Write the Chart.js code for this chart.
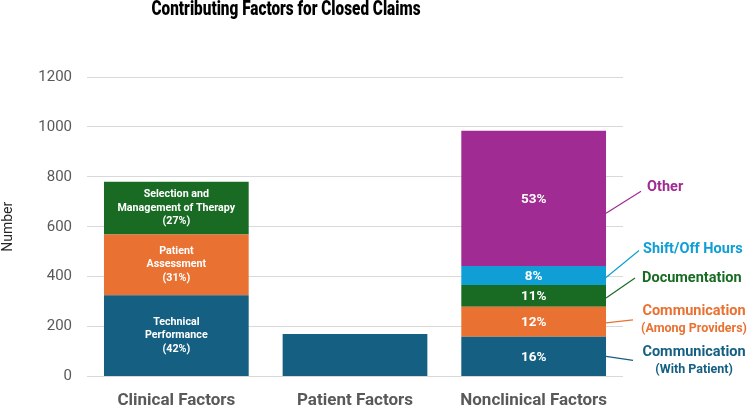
<!DOCTYPE html>
<html>
<head>
<meta charset="utf-8">
<script src="https://cdn.jsdelivr.net/npm/chart.js@4.4.1/dist/chart.umd.min.js"></script>
<style>
    html, body { margin: 0; padding: 0; background: #ffffff; }
    #wrap { width: 747px; height: 407px; position: relative; }
</style>
</head>
<body>
<div id="wrap"><canvas id="claimsChart"></canvas></div>
<script>
var categories = ["Clinical Factors", "Patient Factors", "Nonclinical Factors"];
var yTicks = [0, 200, 400, 600, 800, 1000, 1200];

// clinical bar, bottom to top
var clinicalFactors = [["Technical", "Performance", "(42%)"], ["Patient", "Assessment", "(31%)"], ["Selection and", "Management of Therapy", "(27%)"]];
var clinicalValues = [326, 243, 211];

var patientValue = 170;

// nonclinical bar, bottom to top
var nonclinicalFactors = [["Communication", "(With Patient)"], ["Communication", "(Among Providers)"], ["Documentation"], ["Shift/Off Hours"], ["Other"]];
var nonclinicalValues = [159, 120, 88, 76, 542];
var nonclinicalPct = ["16%", "12%", "11%", "8%", "53%"];

var blue = "#156082";
var orange = "#E97132";
var green = "#196B24";
var cyan = "#0F9ED5";
var purple = "#A02B93";
var clinicalColors = [blue, orange, green];
var nonclinicalColors = [blue, orange, green, cyan, purple];

// where the callout text sits, relative to the right edge / middle of its segment
var callouts = [
    { startDy: 0, endDx: 27, endDy: 4, textDx: 88, textDy: -4, align: "center" },
    { startDy: 1, endDx: 27, endDy: -2, textDx: 88, textDy: -10, align: "center" },
    { startDy: 2, endDx: 29, endDy: -18, textDx: 36, textDy: -18, align: "left" },
    { startDy: 2, endDx: 33, endDy: -25, textDx: 37, textDy: -26, align: "left" },
    { startDy: 15, endDx: 35, endDy: -7, textDx: 41, textDy: -11, align: "left" }
];

var datasets = [];
for (let i = 0; i < clinicalValues.length; i++) {
    datasets.push({
        label: clinicalFactors[i].join(" "),
        data: [clinicalValues[i], null, null],
        backgroundColor: clinicalColors[i],
        group: "clinical",
        idx: i
    });
}
datasets.push({
    label: "Patient Factors",
    data: [null, patientValue, null],
    backgroundColor: blue,
    group: "patient"
});
for (let i = 0; i < nonclinicalValues.length; i++) {
    datasets.push({
        label: nonclinicalFactors[i].join(" "),
        data: [null, null, nonclinicalValues[i]],
        backgroundColor: nonclinicalColors[i],
        group: "nonclinical",
        idx: i
    });
}

var barLabels = {
    id: "barLabels",
    afterDatasetsDraw: function(chart) {
        var ctx = chart.ctx;
        ctx.save();
        chart.data.datasets.forEach(function(ds, d) {
            var meta = chart.getDatasetMeta(d);
            if (ds.group == "clinical") {
                var el = meta.data[0];
                var mid = (el.y + el.base) / 2;
                var lines = clinicalFactors[ds.idx];
                ctx.fillStyle = "#ffffff";
                ctx.font = "bold 10.7px Roboto";
                ctx.textAlign = "center";
                ctx.textBaseline = "middle";
                for (let k = 0; k < lines.length; k++) {
                    ctx.fillText(lines[k], el.x, mid + (k - 1) * 13.5);
                }
            }
            if (ds.group == "nonclinical") {
                var el = meta.data[2];
                var mid = (el.y + el.base) / 2;
                ctx.fillStyle = "#ffffff";
                ctx.font = "bold 13.5px Roboto";
                ctx.textAlign = "center";
                ctx.textBaseline = "middle";
                ctx.fillText(nonclinicalPct[ds.idx], el.x, mid + 1);

                // leader line + callout text
                var c = callouts[ds.idx];
                var right = el.x + el.width / 2;
                var sy = mid + c.startDy;
                ctx.strokeStyle = ds.backgroundColor;
                ctx.lineWidth = 1.2;
                ctx.beginPath();
                ctx.moveTo(right, sy);
                ctx.lineTo(right + c.endDx, mid + c.endDy);
                ctx.stroke();

                var lines = nonclinicalFactors[ds.idx];
                ctx.fillStyle = ds.backgroundColor;
                ctx.textAlign = c.align;
                for (let k = 0; k < lines.length; k++) {
                    ctx.font = k == 0 ? "bold 14.5px Roboto" : "bold 12.5px Roboto";
                    ctx.fillText(lines[k], right + c.textDx, mid + c.textDy + k * 17);
                }
            }
        });
        ctx.restore();
    }
};

var chartTitle = {
    id: "chartTitle",
    afterDraw: function(chart) {
        var ctx = chart.ctx;
        var text = "Contributing Factors for Closed Claims";
        ctx.save();
        ctx.font = "900 21px Roboto";
        ctx.fillStyle = "#000000";
        ctx.textBaseline = "middle";
        ctx.textAlign = "center";
        var w = ctx.measureText(text).width;
        var sx = 269 / w;
        ctx.translate(286, 10);
        ctx.scale(sx, 1);
        ctx.fillText(text, 0, 0);
        ctx.restore();
    }
};

var ctx = document.getElementById("claimsChart").getContext("2d");
var myChart = new Chart(ctx, {
    type: "bar",
    data: {
        labels: categories,
        datasets: datasets
    },
    options: {
        responsive: true,
        maintainAspectRatio: false,
        animation: false,
        layout: {
            padding: { top: 77, right: 124, bottom: 0, left: 0 }
        },
        datasets: {
            bar: {
                categoryPercentage: 1,
                barPercentage: 0.81,
                borderWidth: 0
            }
        },
        plugins: {
            legend: { display: false },
            title: { display: false },
            tooltip: { enabled: false }
        },
        scales: {
            x: {
                stacked: true,
                grid: { display: false },
                border: { display: false },
                ticks: {
                    color: "#595959",
                    font: { family: "Roboto", size: 17, weight: "bold" },
                    padding: 6
                },
                afterFit: function(scale) { scale.height = 30.5; }
            },
            y: {
                stacked: true,
                min: 0,
                max: 1200,
                afterBuildTicks: function(scale) {
                    scale.ticks = yTicks.map(function(v) { return { value: v }; });
                },
                grid: { color: "#d9d9d9", lineWidth: 1, drawTicks: false },
                border: { display: false },
                ticks: {
                    color: "#595959",
                    font: { family: "Roboto", size: 15 },
                    padding: 15,
                    callback: function(v) { return String(v); }
                },
                title: {
                    display: true,
                    text: "Number",
                    color: "#262626",
                    font: { family: "Roboto", size: 14 },
                    padding: 0
                },
                afterFit: function(scale) { scale.width = 87; }
            }
        }
    },
    plugins: [barLabels, chartTitle]
});
</script>
</body>
</html>
